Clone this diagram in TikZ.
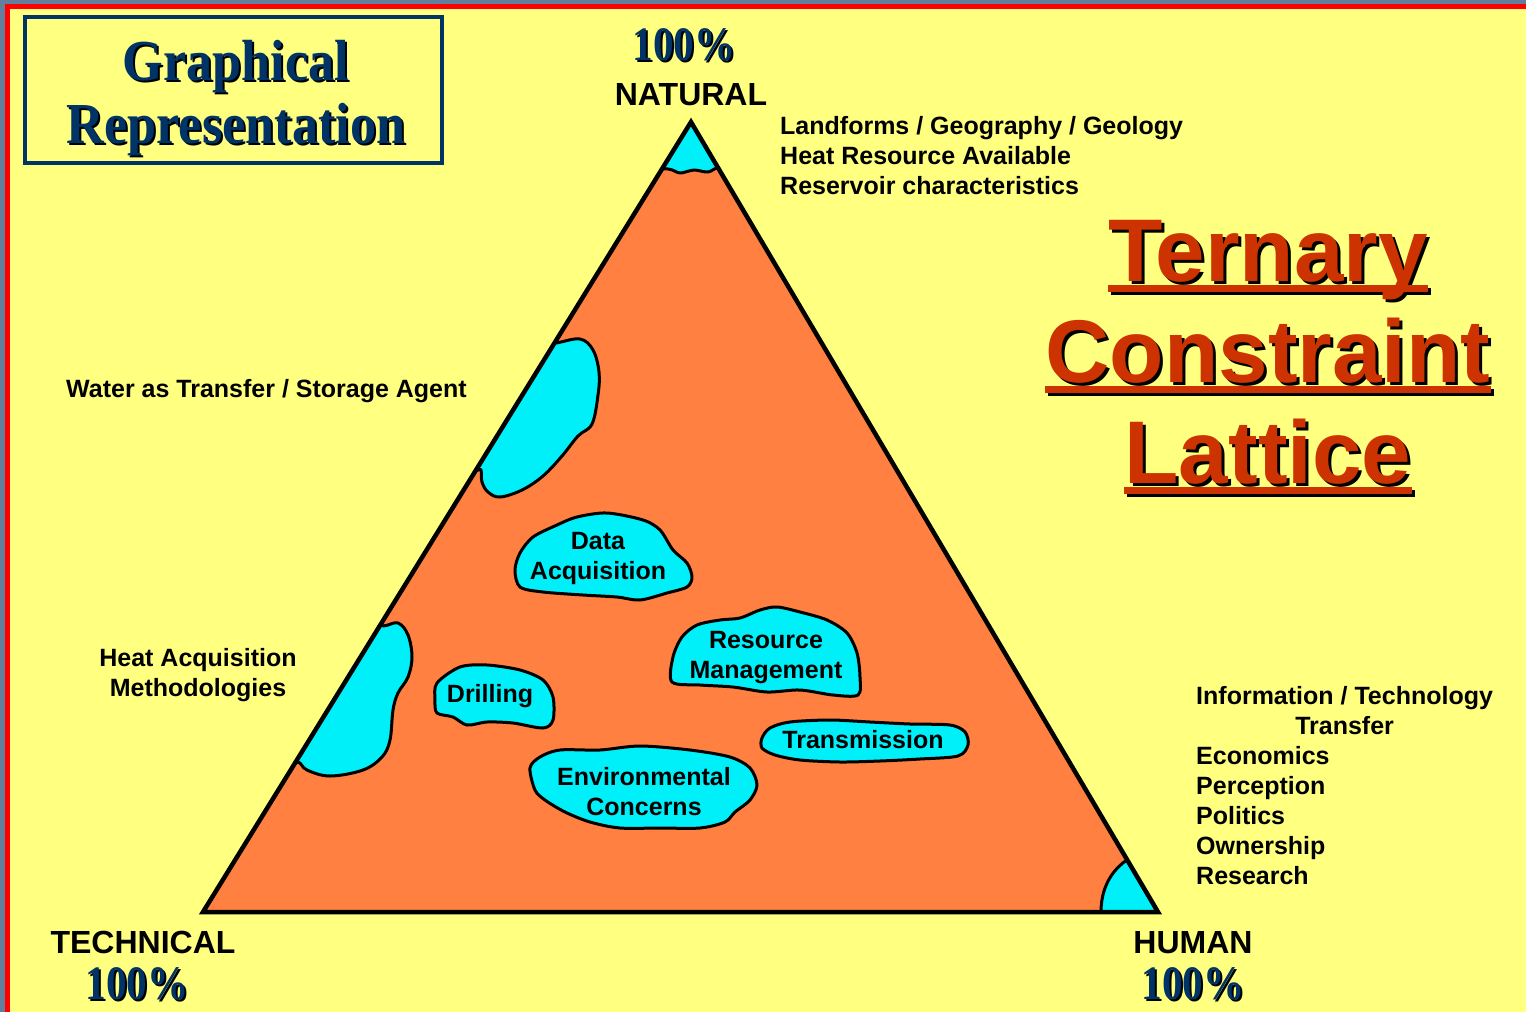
\documentclass[tikz,border=0pt]{standalone}
\usepackage{fontspec}
\setmainfont{Liberation Sans}
\newfontfamily\serifbold{Liberation Serif}
\usepackage{xcolor}
\usetikzlibrary{calc, positioning}

\definecolor{paper}{RGB}{255,255,128}
\definecolor{framered}{RGB}{255,0,0}
\definecolor{slate}{RGB}{98,128,158}
\definecolor{triorange}{RGB}{255,128,64}
\definecolor{blobcyan}{RGB}{0,240,250}
\definecolor{navy}{RGB}{0,51,102}
\definecolor{titlered}{RGB}{204,51,0}

\begin{document}
\begin{tikzpicture}
			[x=1pt, y=-1pt,
			 lbl/.style={font=\bfseries\fontsize{25}{30}\selectfont, inner sep=0pt, align=center},
			 blob/.style={fill=blobcyan, draw=black, line width=3pt, line join=round},
			 vertex/.style={font=\bfseries\fontsize{32}{32}\selectfont, inner sep=0pt, anchor=base},
			 pct/.style={font=\serifbold\bfseries\fontsize{48}{48}\selectfont, inner sep=0pt, anchor=base},
			 heading/.style={font=\serifbold\bfseries\fontsize{58}{58}\selectfont, inner sep=0pt, anchor=base},
			 bigtitle/.style={font=\bfseries\fontsize{89}{89}\selectfont, inner sep=0pt, anchor=base}]
		% background %
		\fill[slate] (0,0) rectangle (1526,1012);
		\fill[framered] (5,4) rectangle (1526,1012);
		\fill[paper] (10,9) rectangle (1526,1012);
		\useasboundingbox (0,0) rectangle (1526,1012);

		% triangle %
		\coordinate (nat) at (691,122);
		\coordinate (tec) at (203,912);
		\coordinate (hum) at (1158,912);
		\fill[triorange] (nat) -- (tec) -- (hum) -- cycle;
		\begin{scope}
			\clip (nat) -- (tec) -- (hum) -- cycle;
			% corner caps %
			\filldraw[blob] (640,90) -- (745,90) -- plot[smooth] coordinates {(745,168) (720,167) (708,172) (694,170) (680,173) (668,169) (640,170)} -- cycle;
			\filldraw[blob] (1100,930) -- (1101,912) .. controls (1101,890) and (1110,870) .. (1130,858) -- (1180,850) -- (1180,930) -- cycle;
			% edge blobs %
			\filldraw[blob] plot[smooth cycle, tension=0.6] coordinates {(556,343) (580,339) (593,350) (599,372) (598,395) (592,424) (578,436) (562,456) (543,476) (522,490) (500,497) (488,492) (482,482) (481,470) (476,460) (545,343)};
			\filldraw[blob] plot[smooth cycle, tension=0.6] coordinates {(383,626) (398,623) (408,635) (412,657) (408,677) (398,693) (393,710) (390,740) (382,757) (363,770) (330,776) (307,770) (298,762) (285,765) (370,622)};
			% inner blobs %
			\filldraw[blob] plot[smooth cycle, tension=0.5] coordinates {(515,570) (520,553) (533,537) (557,525) (577,517) (607,513) (643,520) (660,530) (673,550) (687,563) (692,577) (687,587) (667,593) (640,600) (617,597) (583,595) (543,592) (520,587)};
			\filldraw[blob] plot[smooth cycle, tension=0.5] coordinates {(672,682) (673,657) (682,637) (697,625) (720,620) (740,618) (760,610) (777,607) (800,612) (827,620) (847,633) (857,653) (860,677) (858,695) (833,695) (800,690) (767,692) (733,687) (700,685)};
			\filldraw[blob] plot[smooth cycle, tension=0.5] coordinates {(437,683) (460,667) (487,665) (520,670) (543,680) (553,697) (553,720) (543,728) (513,723) (487,722) (467,725) (453,717) (437,713) (435,700)};
			\filldraw[blob] plot[smooth cycle, tension=0.5] coordinates {(762,738) (770,728) (790,722) (830,720) (870,722) (910,724) (950,725) (965,732) (968,745) (958,756) (920,759) (880,761) (840,762) (800,760) (775,755) (762,748)};
			\filldraw[blob] plot[smooth cycle, tension=0.5] coordinates {(530,768) (540,757) (560,750) (600,750) (640,746) (690,750) (730,757) (750,768) (757,785) (750,800) (735,812) (725,822) (700,828) (660,828) (620,828) (590,822) (565,812) (545,800) (535,790)};
		\end{scope}
		\draw[line width=4.5pt] (nat) -- (tec) -- (hum) -- cycle;

		% nodes %
		\node[lbl, anchor=north] (data) at (598,532) {Data\\Acquisition};
		\node[lbl, anchor=north] (resource) at (766,631) {Resource\\Management};
		\node[lbl, anchor=north] (drilling) at (490,684) {Drilling};
		\node[lbl, anchor=north] (transmission) at (863,730) {Transmission};
		\node[lbl, anchor=north] (environ) at (644,767) {Environmental\\Concerns};

		\node[vertex] (natural) at (691,105) {NATURAL};
		\node[vertex] (technical) at (143,953) {TECHNICAL};
		\node[vertex] (human) at (1193,953) {HUMAN};
		\node[pct, text=black] at (686,62) {\scalebox{0.86}[1]{100\%}};
		\node[pct, text=navy] (pctnat) at (684,60) {\scalebox{0.86}[1]{100\%}};
		\node[pct, text=black] at (139,1001) {\scalebox{0.86}[1]{100\%}};
		\node[pct, text=navy] (pcttec) at (137,999) {\scalebox{0.86}[1]{100\%}};
		\node[pct, text=black] at (1195,1001) {\scalebox{0.86}[1]{100\%}};
		\node[pct, text=navy] (pcthum) at (1193,999) {\scalebox{0.86}[1]{100\%}};

		\node[lbl, align=left, anchor=north west] (geo) at (780,116) {Landforms / Geography / Geology\\Heat Resource Available\\Reservoir characteristics};
		\node[lbl, anchor=north west] (water) at (66,379) {Water as Transfer / Storage Agent};
		\node[lbl, anchor=north] (heat) at (198,648) {Heat Acquisition\\Methodologies};
		\node[lbl, anchor=north west] (info) at (1196,686) {Information / Technology\\Transfer};
		\node[lbl, align=left, anchor=north west] (social) at (1196,746) {Economics\\Perception\\Politics\\Ownership\\Research};

		% heading %
		\node[draw=navy, line width=4pt, minimum width=417pt, minimum height=146pt, inner sep=0pt] (headbox) at (233.5,90) {};
		\node[heading, text=black] at (238,82) {\scalebox{0.9}[1]{Graphical}};
		\node[heading, text=navy] (graphical) at (236,80) {\scalebox{0.9}[1]{Graphical}};
		\node[heading, text=black] at (238,145) {\scalebox{0.9}[1]{Representation}};
		\node[heading, text=navy] (representation) at (236,143) {\scalebox{0.9}[1]{Representation}};

		% title %
		\foreach \word/\name/\y in {Ternary/tern/281, Constraint/cons/382, Lattice/latt/483} {
			\node[bigtitle, text=black] (\name s) at (1271,\y+3) {\word};
			\draw[line width=7pt] ([shift={(0,7)}]\name s.base west) -- ([shift={(0,7)}]\name s.base east);
			\node[bigtitle, text=titlered] (\name) at (1268,\y) {\word};
			\draw[line width=7pt, titlered] ([shift={(0,7)}]\name.base west) -- ([shift={(0,7)}]\name.base east);
		}
\end{tikzpicture}
\end{document}
